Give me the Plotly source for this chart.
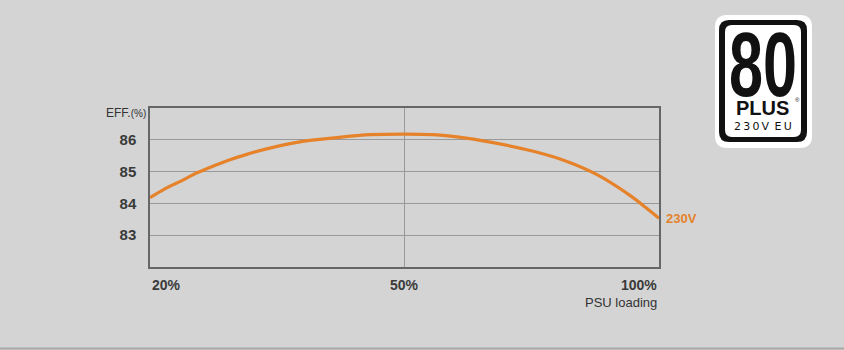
import numpy as np
import plotly.graph_objects as go

# ---- data ----
load_pct = [20, 21.7, 23.7, 25.6, 27.6, 29.6, 31.5, 33.5, 38, 42, 46, 50,
            55.6, 62.1, 68.7, 75.3, 81.4, 88, 94.5, 97.4, 100]
eff_230v = [84.18, 84.45, 84.71, 84.97, 85.19, 85.39, 85.55, 85.70, 85.95, 86.07, 86.16, 86.18,
            86.16, 86.05, 85.87, 85.64, 85.35, 84.89, 84.23, 83.87, 83.53]
x_ticks = [20, 50, 100]
x_tick_labels = ["20%", "50%", "100%"]
y_ticks = [83, 84, 85, 86]
series_name = "230V"

ORANGE = "#E5822A"
BG = "#D4D4D4"
W, H = 844, 350
L, R, T, B = 150, 659, 108, 267

def pos(v):
    return np.interp(v, x_ticks, list(range(len(x_ticks))))

def px(x):
    return (x - L) / (R - L)

def py(y):
    return (B - y) / (B - T)

def rrect(x0, y0, x1, y1, r):
    a, b, c, d = px(x0), px(x1), py(y0), py(y1)
    rx = r / (R - L)
    ry = r / (B - T)
    return (f"M {a+rx} {c} L {b-rx} {c} Q {b} {c} {b} {c-ry} "
            f"L {b} {d+ry} Q {b} {d} {b-rx} {d} L {a+rx} {d} "
            f"Q {a} {d} {a} {d+ry} L {a} {c-ry} Q {a} {c} {a+rx} {c} Z")

fig = go.Figure()
fig.add_trace(go.Scatter(
    x=pos(load_pct), y=eff_230v, mode="lines",
    line=dict(color=ORANGE, width=3.2, shape="spline", smoothing=0.9),
    showlegend=False, hoverinfo="skip", cliponaxis=False,
))

annotations = []
anchors = ["left", "center", "right"]
for v, lab, anc in zip(x_ticks, x_tick_labels, anchors):
    annotations.append(dict(x=pos(v), y=py(285), xref="x", yref="paper", text=f"<b>{lab}</b>",
                            showarrow=False, xanchor=anc, yanchor="middle",
                            font=dict(size=14, color="#3a3a3a", family="Liberation Sans")))
annotations.append(dict(x=pos(x_ticks[-1]), y=py(302), xref="x", yref="paper", text="PSU loading",
                        showarrow=False, xanchor="right", yanchor="middle",
                        font=dict(size=13, color="#333333", family="Liberation Sans")))
annotations.append(dict(x=px(148), y=py(113), xref="paper", yref="paper",
                        text="EFF.<span style='font-size:10px'>(%)</span>",
                        showarrow=False, xanchor="right", yanchor="middle",
                        font=dict(size=12, color="#333333", family="Liberation Sans")))
annotations.append(dict(x=pos(load_pct[-1]), y=eff_230v[-1], xref="x", yref="y",
                        text=f"<b>{series_name}</b>", showarrow=False, xanchor="left",
                        yanchor="middle", xshift=5, yshift=0,
                        font=dict(size=13, color=ORANGE, family="Liberation Sans")))
# 80 PLUS badge
annotations.append(dict(x=px(763), y=py(65), xref="paper", yref="paper", text="<b>80</b>",
                        showarrow=False, xanchor="center", yanchor="middle",
                        font=dict(size=90, color="#111111", family="Liberation Sans")))
annotations.append(dict(x=px(762), y=py(108), xref="paper", yref="paper",
                        text="<b>PLUS</b>",
                        showarrow=False, xanchor="center", yanchor="middle",
                        font=dict(size=20, color="#111111", family="Liberation Sans")))
annotations.append(dict(x=px(793), y=py(100), xref="paper", yref="paper",
                        text="®", showarrow=False, xanchor="left", yanchor="middle",
                        font=dict(size=6, color="#111111", family="Liberation Sans")))
annotations.append(dict(x=px(763), y=py(126), xref="paper", yref="paper",
                        text="2\u20093\u20090\u2009V\u2002E\u2009U",
                        showarrow=False, xanchor="center", yanchor="middle",
                        font=dict(size=11, color="#111111", family="DejaVu Sans")))

shapes = [
    dict(type="path", xref="paper", yref="paper", path=rrect(715, 15, 812, 148, 12),
         fillcolor="white", line=dict(width=0), layer="above"),
    dict(type="path", xref="paper", yref="paper", path=rrect(719, 20, 807, 142, 10),
         fillcolor="#111111", line=dict(width=0), layer="above"),
    dict(type="path", xref="paper", yref="paper", path=rrect(725, 25, 801, 137, 7),
         fillcolor="white", line=dict(width=0), layer="above"),
    dict(type="line", xref="paper", yref="paper", x0=px(0), x1=px(W), y0=py(348.5), y1=py(348.5),
         line=dict(color="#A8A8A8", width=2)),
]

fig.update_layout(
    width=W, height=H,
    margin=dict(l=L, r=W - R, t=T, b=H - B),
    paper_bgcolor=BG, plot_bgcolor=BG,
    annotations=annotations, shapes=shapes,
    xaxis=dict(range=[0, len(x_ticks) - 1], tickvals=[pos(50)], showticklabels=False,
               showgrid=True, gridcolor="#9A9A9A", gridwidth=1, zeroline=False,
               showline=True, linecolor="#666666", linewidth=1.5, mirror=True, ticks=""),
    yaxis=dict(range=[82, 87], tickvals=y_ticks, ticktext=[f"<b>{v}</b>" for v in y_ticks],
               showgrid=True, gridcolor="#9A9A9A", gridwidth=1, zeroline=False,
               showline=True, linecolor="#666666", linewidth=1.5, mirror=True, ticks="",
               ticklabelstandoff=9,
               tickfont=dict(size=15, color="#3a3a3a", family="Liberation Sans")),
)

# condense the big "80" of the badge horizontally (keeps it as real text)
post = """
var gd = document.getElementById('{plot_id}');
function squeeze80(){
  gd.querySelectorAll('.annotation-text').forEach(function(t){
    if (t.textContent.trim() === '80') {
      t.removeAttribute('transform');
      var b = t.getBBox(); var cx = b.x + b.width / 2;
      t.setAttribute('transform', 'translate(' + cx + ',0) scale(0.68,1) translate(' + (-cx) + ',0)');
    }
  });
}
squeeze80();
gd.on('plotly_afterplot', squeeze80);
"""
fig.write_html("out.html", post_script=post)
